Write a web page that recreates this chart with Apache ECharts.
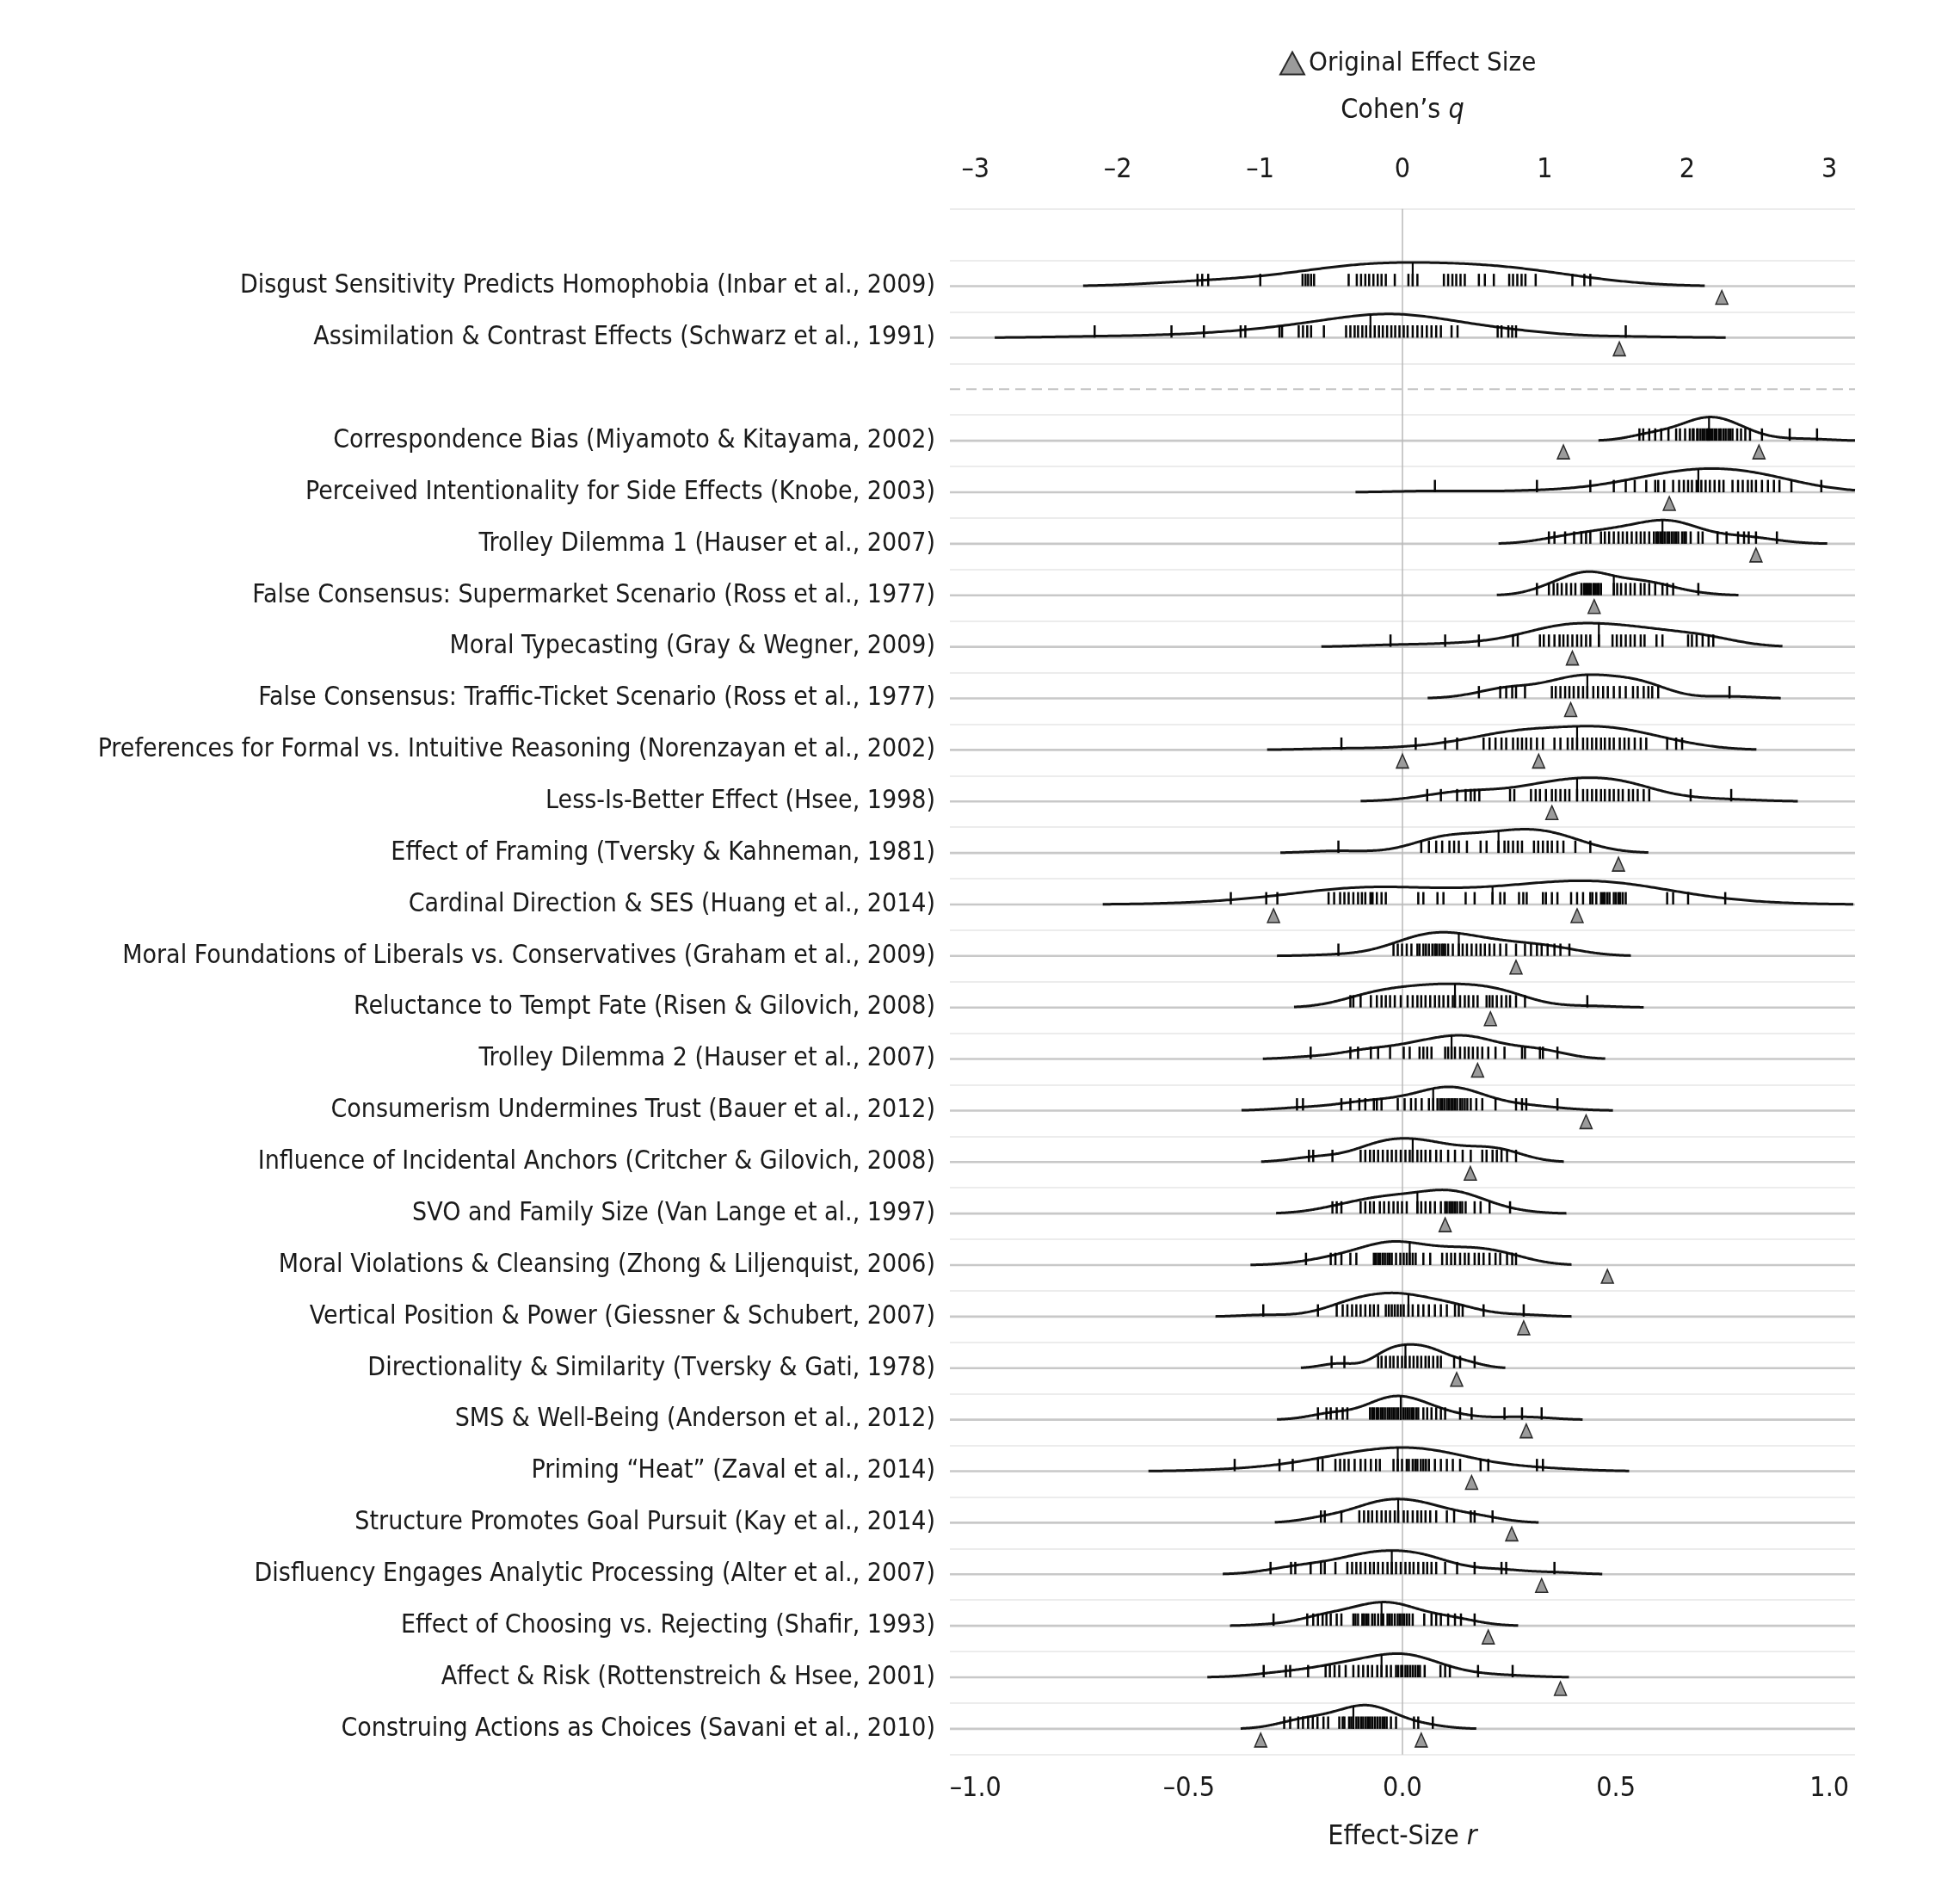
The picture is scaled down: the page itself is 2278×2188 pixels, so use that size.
<!DOCTYPE html>
<html><head><meta charset="utf-8">
<script src="https://cdn.jsdelivr.net/npm/echarts@6/dist/echarts.min.js"></script>
<style>html,body{margin:0;padding:0;background:#fff}#chart{width:2278px;height:2188px}</style>
</head><body><div id="chart"></div>
<script>
// ---------------- DATA ----------------
const studies = [
  "Disgust Sensitivity Predicts Homophobia (Inbar et al., 2009)",
  "Assimilation & Contrast Effects (Schwarz et al., 1991)",
  "Correspondence Bias (Miyamoto & Kitayama, 2002)",
  "Perceived Intentionality for Side Effects (Knobe, 2003)",
  "Trolley Dilemma 1 (Hauser et al., 2007)",
  "False Consensus: Supermarket Scenario (Ross et al., 1977)",
  "Moral Typecasting (Gray & Wegner, 2009)",
  "False Consensus: Traffic-Ticket Scenario (Ross et al., 1977)",
  "Preferences for Formal vs. Intuitive Reasoning (Norenzayan et al., 2002)",
  "Less-Is-Better Effect (Hsee, 1998)",
  "Effect of Framing (Tversky & Kahneman, 1981)",
  "Cardinal Direction & SES (Huang et al., 2014)",
  "Moral Foundations of Liberals vs. Conservatives (Graham et al., 2009)",
  "Reluctance to Tempt Fate (Risen & Gilovich, 2008)",
  "Trolley Dilemma 2 (Hauser et al., 2007)",
  "Consumerism Undermines Trust (Bauer et al., 2012)",
  "Influence of Incidental Anchors (Critcher & Gilovich, 2008)",
  "SVO and Family Size (Van Lange et al., 1997)",
  "Moral Violations & Cleansing (Zhong & Liljenquist, 2006)",
  "Vertical Position & Power (Giessner & Schubert, 2007)",
  "Directionality & Similarity (Tversky & Gati, 1978)",
  "SMS & Well-Being (Anderson et al., 2012)",
  "Priming \u201CHeat\u201D (Zaval et al., 2014)",
  "Structure Promotes Goal Pursuit (Kay et al., 2014)",
  "Disfluency Engages Analytic Processing (Alter et al., 2007)",
  "Effect of Choosing vs. Rejecting (Shafir, 1993)",
  "Affect & Risk (Rottenstreich & Hsee, 2001)",
  "Construing Actions as Choices (Savani et al., 2010)"
];

// per-lab effect sizes (r), one list per study
const labRugs = [
  [-0.480,-0.469,-0.455,-0.333,-0.234,-0.227,-0.221,-0.214,-0.207,-0.126,-0.107,-0.097,-0.087,-0.078,-0.068,-0.058,-0.049,-0.039,-0.018,0.014,0.024,0.035,0.097,0.107,0.117,0.126,0.136,0.146,0.179,0.193,0.214,0.250,0.259,0.269,0.279,0.288,0.312,0.398,0.426,0.440],
  [-0.721,-0.541,-0.465,-0.379,-0.368,-0.288,-0.282,-0.243,-0.233,-0.223,-0.214,-0.184,-0.132,-0.122,-0.112,-0.104,-0.094,-0.085,-0.075,-0.065,-0.055,-0.046,-0.036,-0.026,-0.017,-0.007,0.003,0.012,0.024,0.035,0.046,0.057,0.068,0.079,0.090,0.115,0.129,0.223,0.232,0.248,0.257,0.266,0.523],
  [0.555,0.564,0.578,0.592,0.606,0.623,0.641,0.650,0.662,0.673,0.680,0.682,0.690,0.692,0.698,0.703,0.708,0.713,0.716,0.721,0.726,0.731,0.736,0.742,0.746,0.752,0.757,0.763,0.768,0.773,0.784,0.793,0.803,0.814,0.842,0.907,0.971],
  [0.076,0.315,0.440,0.495,0.523,0.544,0.571,0.592,0.599,0.613,0.634,0.648,0.659,0.669,0.678,0.689,0.700,0.710,0.720,0.731,0.742,0.752,0.773,0.786,0.797,0.809,0.818,0.828,0.842,0.856,0.870,0.883,0.911,0.981],
  [0.343,0.356,0.381,0.402,0.419,0.430,0.440,0.465,0.474,0.484,0.495,0.506,0.516,0.526,0.537,0.548,0.558,0.567,0.578,0.589,0.595,0.599,0.604,0.609,0.614,0.620,0.625,0.631,0.636,0.641,0.646,0.655,0.660,0.664,0.675,0.693,0.703,0.738,0.759,0.786,0.800,0.811,0.828,0.877],
  [0.315,0.343,0.354,0.363,0.373,0.384,0.395,0.405,0.419,0.425,0.429,0.433,0.437,0.441,0.447,0.451,0.456,0.460,0.465,0.495,0.503,0.512,0.523,0.534,0.544,0.558,0.567,0.578,0.592,0.609,0.620,0.634,0.693],
  [-0.028,0.100,0.179,0.259,0.270,0.322,0.331,0.343,0.356,0.368,0.377,0.387,0.398,0.409,0.419,0.430,0.440,0.460,0.492,0.502,0.512,0.523,0.534,0.544,0.558,0.567,0.595,0.609,0.669,0.678,0.689,0.703,0.717,0.728],
  [0.179,0.229,0.243,0.257,0.266,0.287,0.350,0.359,0.370,0.381,0.391,0.401,0.412,0.423,0.433,0.447,0.458,0.470,0.481,0.495,0.509,0.523,0.540,0.551,0.565,0.576,0.585,0.599,0.766],
  [-0.143,0.031,0.100,0.128,0.190,0.204,0.218,0.232,0.243,0.259,0.270,0.280,0.290,0.301,0.315,0.329,0.356,0.370,0.387,0.398,0.409,0.423,0.433,0.444,0.454,0.465,0.474,0.485,0.495,0.509,0.520,0.530,0.544,0.558,0.571,0.620,0.641,0.655],
  [0.058,0.090,0.128,0.148,0.160,0.169,0.180,0.252,0.262,0.301,0.312,0.322,0.336,0.350,0.359,0.370,0.381,0.391,0.409,0.423,0.433,0.444,0.454,0.465,0.474,0.485,0.495,0.506,0.516,0.530,0.540,0.551,0.565,0.578,0.675,0.770],
  [-0.150,0.044,0.062,0.079,0.093,0.110,0.121,0.132,0.151,0.183,0.197,0.225,0.239,0.248,0.259,0.270,0.280,0.308,0.318,0.329,0.340,0.350,0.363,0.377,0.405,0.440],
  [-0.402,-0.319,-0.293,-0.173,-0.160,-0.146,-0.136,-0.126,-0.115,-0.104,-0.095,-0.087,-0.075,-0.070,-0.060,-0.049,-0.039,0.037,0.049,0.082,0.096,0.148,0.169,0.211,0.229,0.239,0.273,0.283,0.291,0.329,0.336,0.350,0.363,0.395,0.409,0.423,0.440,0.445,0.454,0.465,0.470,0.474,0.480,0.485,0.495,0.500,0.506,0.510,0.516,0.523,0.620,0.634,0.669,0.756],
  [-0.150,-0.021,-0.011,-0.001,0.010,0.021,0.035,0.040,0.049,0.055,0.062,0.070,0.076,0.080,0.086,0.092,0.096,0.100,0.107,0.118,0.132,0.141,0.151,0.162,0.173,0.183,0.193,0.204,0.215,0.229,0.243,0.266,0.287,0.301,0.315,0.326,0.340,0.356,0.370,0.391],
  [-0.122,-0.115,-0.098,-0.074,-0.060,-0.049,-0.039,-0.029,-0.018,-0.004,0.012,0.024,0.035,0.044,0.054,0.065,0.076,0.086,0.096,0.107,0.118,0.123,0.135,0.146,0.155,0.166,0.176,0.197,0.204,0.211,0.221,0.232,0.243,0.252,0.266,0.287,0.433],
  [-0.215,-0.122,-0.104,-0.074,-0.057,-0.029,0.003,0.017,0.040,0.049,0.058,0.068,0.100,0.107,0.115,0.123,0.135,0.146,0.155,0.165,0.176,0.187,0.201,0.218,0.239,0.280,0.287,0.322,0.329,0.363],
  [-0.247,-0.233,-0.143,-0.122,-0.101,-0.087,-0.067,-0.060,-0.049,-0.011,0.005,0.020,0.031,0.045,0.062,0.072,0.082,0.088,0.093,0.098,0.104,0.109,0.114,0.118,0.123,0.128,0.135,0.140,0.146,0.152,0.160,0.173,0.187,0.218,0.266,0.280,0.290,0.363],
  [-0.219,-0.209,-0.164,-0.098,-0.087,-0.076,-0.067,-0.057,-0.046,-0.035,-0.025,-0.015,-0.004,0.007,0.017,0.024,0.035,0.044,0.054,0.065,0.079,0.090,0.107,0.123,0.141,0.160,0.187,0.197,0.211,0.221,0.232,0.245,0.266],
  [-0.164,-0.154,-0.143,-0.098,-0.087,-0.076,-0.067,-0.053,-0.043,-0.032,-0.021,-0.011,-0.001,0.010,0.035,0.044,0.054,0.065,0.076,0.090,0.100,0.104,0.110,0.114,0.118,0.123,0.128,0.135,0.140,0.148,0.169,0.183,0.204,0.252],
  [-0.226,-0.168,-0.157,-0.143,-0.122,-0.108,-0.067,-0.062,-0.057,-0.052,-0.046,-0.041,-0.035,-0.030,-0.025,-0.015,-0.005,0.003,0.010,0.017,0.024,0.031,0.049,0.065,0.093,0.104,0.114,0.123,0.135,0.146,0.155,0.169,0.179,0.190,0.204,0.218,0.229,0.245,0.257,0.266],
  [-0.326,-0.198,-0.154,-0.140,-0.129,-0.118,-0.108,-0.098,-0.087,-0.076,-0.067,-0.057,-0.039,-0.032,-0.025,-0.018,-0.011,-0.004,0.003,0.014,0.024,0.037,0.049,0.062,0.076,0.090,0.104,0.123,0.132,0.141,0.190,0.284],
  [-0.166,-0.136,-0.057,-0.049,-0.039,-0.029,-0.021,-0.011,-0.001,0.007,0.017,0.026,0.035,0.044,0.054,0.062,0.072,0.082,0.090,0.121,0.135,0.169],
  [-0.198,-0.178,-0.168,-0.154,-0.140,-0.129,-0.076,-0.071,-0.067,-0.061,-0.057,-0.051,-0.046,-0.041,-0.035,-0.030,-0.025,-0.020,-0.015,-0.010,-0.004,0.002,0.007,0.012,0.017,0.022,0.026,0.032,0.037,0.049,0.058,0.068,0.079,0.090,0.100,0.135,0.162,0.239,0.280,0.326],
  [-0.393,-0.288,-0.257,-0.198,-0.187,-0.157,-0.146,-0.136,-0.126,-0.112,-0.098,-0.087,-0.074,-0.062,-0.053,-0.021,-0.011,-0.001,0.010,0.015,0.024,0.030,0.035,0.043,0.049,0.055,0.062,0.076,0.090,0.104,0.118,0.135,0.183,0.201,0.315,0.329],
  [-0.191,-0.182,-0.143,-0.101,-0.090,-0.080,-0.071,-0.060,-0.049,-0.039,-0.029,-0.018,-0.010,0.003,0.012,0.024,0.035,0.044,0.054,0.065,0.079,0.104,0.121,0.160,0.169,0.211],
  [-0.309,-0.261,-0.251,-0.215,-0.191,-0.182,-0.157,-0.129,-0.118,-0.108,-0.098,-0.087,-0.076,-0.067,-0.057,-0.046,-0.035,-0.025,-0.015,-0.004,0.007,0.017,0.026,0.037,0.049,0.058,0.068,0.079,0.100,0.128,0.169,0.232,0.243,0.356],
  [-0.302,-0.223,-0.209,-0.198,-0.187,-0.178,-0.168,-0.154,-0.143,-0.115,-0.110,-0.104,-0.094,-0.090,-0.085,-0.080,-0.071,-0.065,-0.057,-0.049,-0.045,-0.035,-0.030,-0.025,-0.018,-0.011,-0.006,-0.001,0.004,0.010,0.016,0.024,0.051,0.068,0.079,0.090,0.107,0.123,0.137,0.169],
  [-0.325,-0.273,-0.263,-0.221,-0.180,-0.170,-0.159,-0.148,-0.133,-0.115,-0.103,-0.092,-0.081,-0.071,-0.059,-0.049,-0.037,-0.027,-0.015,-0.010,-0.003,0.000,0.007,0.012,0.018,0.024,0.030,0.036,0.041,0.052,0.089,0.100,0.111,0.177,0.258],
  [-0.277,-0.263,-0.244,-0.233,-0.221,-0.210,-0.199,-0.185,-0.174,-0.148,-0.140,-0.136,-0.125,-0.120,-0.115,-0.108,-0.103,-0.097,-0.092,-0.086,-0.081,-0.076,-0.071,-0.065,-0.059,-0.053,-0.047,-0.042,-0.037,-0.027,-0.015,0.027,0.037,0.071]
];

// median line per study (r)
const medians = [0.024,-0.075,0.718,0.693,0.609,0.495,0.460,0.433,0.409,0.409,0.225,0.211,0.132,0.123,0.115,0.072,0.024,0.035,0.017,0.014,0.007,-0.004,-0.011,-0.010,-0.025,-0.049,-0.049,-0.115];

// original effect sizes (r); some studies have two
const originals = [[0.748],[0.508],[0.377,0.835],[0.625],[0.828],[0.449],[0.398],[0.394],[0.0,0.319],[0.350],[0.506],[-0.302,0.409],[0.266],[0.206],[0.176],[0.430],[0.159],[0.100],[0.480],[0.284],[0.127],[0.290],[0.162],[0.256],[0.326],[0.201],[0.370],[-0.332,0.044]];

// kernel bandwidth of each density (r units)
const bandwidths = [0.134,0.117,0.048,0.093,0.059,0.047,0.081,0.060,0.087,0.078,0.068,0.150,0.072,0.066,0.056,0.065,0.056,0.066,0.065,0.056,0.036,0.048,0.101,0.054,0.056,0.051,0.066,0.051];

const rTicks = [-1, -0.5, 0, 0.5, 1];
const qTicks = [-3, -2, -1, 0, 1, 2, 3];

// ---------------- LAYOUT ----------------
const FONT = "'Liberation Sans Narrow','Arial Narrow','DejaVu Sans Condensed',sans-serif";
const INK = '#1a1a1a';
const R_MIN = -1.06, R_MAX = 1.06;
const CUT = 2;
const PEAK = 0.46, TICK_H = 0.24;
const DIVIDER_SLOT = 3;
const slotOf = i => (i < 2 ? i + 1 : i + 2);
const slotNames = ['', studies[0], studies[1], '', ...studies.slice(2)];
const dash = s => String(s).replace('-', '\u2013');

function kde(vals, bw, x) {
  let s = 0;
  for (const v of vals) { const z = (x - v) / bw; s += Math.exp(-0.5 * z * z); }
  return s / (vals.length * bw * Math.sqrt(2 * Math.PI));
}
const curves = studies.map((_, i) => {
  const vals = labRugs[i], bw = bandwidths[i];
  const lo = Math.min(...vals) - CUT * bw, hi = Math.max(...vals) + CUT * bw;
  const N = 320; const pts = []; let peak = 0;
  for (let k = 0; k <= N; k++) {
    const x = lo + (hi - lo) * k / N; const d = kde(vals, bw, x);
    peak = Math.max(peak, d);
    if (x >= R_MIN && x <= R_MAX) pts.push([x, d]);
  }
  if (hi > R_MAX) pts.push([R_MAX, kde(vals, bw, R_MAX)]);
  if (lo < R_MIN) pts.unshift([R_MIN, kde(vals, bw, R_MIN)]);
  return { pts, peak };
});

const band = api => { const s = api.size([0, 1]); return (s && s[1]) ? s[1] : 59.87; };

const rugData = [];
labRugs.forEach((arr, i) => arr.forEach(v => rugData.push([v, slotOf(i)])));
const origData = [];
originals.forEach((arr, i) => arr.forEach(v => origData.push([v, slotOf(i)])));

const chart = echarts.init(document.getElementById('chart'), null, { renderer: 'canvas' });
chart.setOption({
  animation: false,
  backgroundColor: '#ffffff',
  legend: {
    data: [{ name: 'Original Effect Size', icon: 'triangle' }],
    left: 1482, top: 53, itemWidth: 28, itemHeight: 26, itemGap: 6, selectedMode: false,
    textStyle: { fontSize: 31, fontFamily: FONT, color: INK }
  },
  grid: { left: 1104, right: 122, top: 242.7, bottom: 149.2, containLabel: false },
  xAxis: [
    {
      type: 'value', min: R_MIN, max: R_MAX, position: 'bottom',
      axisLine: { show: false }, axisTick: { show: false }, splitLine: { show: false },
      axisLabel: { customValues: rTicks, formatter: v => dash(Number(v).toFixed(1)), fontSize: 32, margin: 24, color: INK, fontFamily: FONT },
      name: '{t|Effect-Size }{i|r}', nameLocation: 'middle', nameGap: 80,
      nameTextStyle: { rich: { t: { fontSize: 32, fontFamily: FONT, color: INK }, i: { fontSize: 32, fontFamily: FONT, color: INK, fontStyle: 'italic' } } }
    },
    {
      type: 'value', min: R_MIN * 3, max: R_MAX * 3, position: 'top',
      axisLine: { show: false }, axisTick: { show: false }, splitLine: { show: false },
      axisLabel: { customValues: qTicks, formatter: v => dash(Math.round(v)), fontSize: 32, margin: 29, color: INK, fontFamily: FONT },
      name: '{t|Cohen\u2019s }{i|q}', nameLocation: 'middle', nameGap: 98,
      nameTextStyle: { rich: { t: { fontSize: 32, fontFamily: FONT, color: INK }, i: { fontSize: 32, fontFamily: FONT, color: INK, fontStyle: 'italic' } } }
    }
  ],
  yAxis: {
    type: 'category', data: slotNames, inverse: true, boundaryGap: true,
    axisLine: { show: false }, axisTick: { show: false },
    splitLine: { show: true, interval: 0, lineStyle: { color: '#ececec', width: 2 } },
    axisLabel: { interval: 0, margin: 17, fontSize: 30, fontFamily: FONT, color: INK }
  },
  series: [
    { // row baselines
      type: 'custom', silent: true, z: 2,
      data: studies.map((_, i) => [0, slotOf(i)]), encode: { x: 0, y: 1 },
      renderItem(params, api) {
        const p = api.coord([0, api.value(1)]); const cs = params.coordSys;
        return { type: 'line', shape: { x1: cs.x, y1: p[1], x2: cs.x + cs.width, y2: p[1] }, style: { stroke: '#c8c8c8', lineWidth: 2.6 } };
      }
    },
    { // dashed divider
      type: 'custom', silent: true, z: 2,
      data: [[0, DIVIDER_SLOT]], encode: { x: 0, y: 1 },
      renderItem(params, api) {
        const p = api.coord([0, api.value(1)]); const cs = params.coordSys;
        return { type: 'line', shape: { x1: cs.x, y1: p[1], x2: cs.x + cs.width, y2: p[1] }, style: { stroke: '#c4c4c4', lineWidth: 2, lineDash: [12, 7] } };
      }
    },
    { // zero reference line
      type: 'custom', silent: true, z: 3,
      data: [[0, 0]], encode: { x: 0, y: 1 },
      renderItem(params, api) {
        const p = api.coord([api.value(0), 0]); const cs = params.coordSys;
        return { type: 'line', shape: { x1: p[0], y1: cs.y, x2: p[0], y2: cs.y + cs.height }, style: { stroke: '#b9b9b9', lineWidth: 1.5 } };
      }
    },
    { // densities
      type: 'custom', silent: true, z: 4,
      data: studies.map((_, i) => [0, slotOf(i), i]), encode: { x: 0, y: 1 },
      renderItem(params, api) {
        const i = api.value(2), slot = api.value(1), h = band(api), c = curves[i];
        const points = c.pts.map(([x, d]) => { const p = api.coord([x, slot]); return [p[0], p[1] - d / c.peak * PEAK * h]; });
        return { type: 'polyline', shape: { points }, style: { fill: 'none', stroke: '#141414', lineWidth: 3 } };
      }
    },
    { // rug ticks
      type: 'custom', silent: true, z: 5,
      data: rugData, encode: { x: 0, y: 1 },
      renderItem(params, api) {
        const p = api.coord([api.value(0), api.value(1)]); const h = band(api);
        return { type: 'line', shape: { x1: p[0], y1: p[1], x2: p[0], y2: p[1] - TICK_H * h }, style: { stroke: '#050505', lineWidth: 2.5 } };
      }
    },
    { // median lines up to the density curve
      type: 'custom', silent: true, z: 5,
      data: medians.map((m, i) => [m, slotOf(i), i]), encode: { x: 0, y: 1 },
      renderItem(params, api) {
        const i = api.value(2), m = api.value(0), p = api.coord([m, api.value(1)]), h = band(api);
        const d = kde(labRugs[i], bandwidths[i], m) / curves[i].peak;
        return { type: 'line', shape: { x1: p[0], y1: p[1], x2: p[0], y2: p[1] - d * PEAK * h }, style: { stroke: '#050505', lineWidth: 2.2 } };
      }
    },
    {
      name: 'Original Effect Size', type: 'scatter', z: 6, silent: true,
      data: origData, symbol: 'triangle', symbolSize: [14, 16], symbolOffset: [0, 13],
      itemStyle: { color: '#9b9b9b', borderColor: '#2a2a2a', borderWidth: 1.5, opacity: 1 }
    }
  ]
});
</script></body></html>
